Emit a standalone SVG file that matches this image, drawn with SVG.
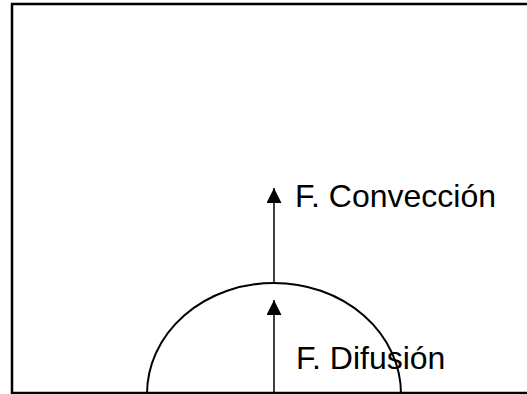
<svg xmlns="http://www.w3.org/2000/svg" width="527" height="394" viewBox="0 0 527 394">
<defs>
<style>
.lbl{font-family:"Liberation Sans",Arial,sans-serif;font-size:32px;fill:#000}
.conn{stroke:#000;stroke-width:1.5;fill:none;marker-end:url(#ah)}
</style>
<marker id="ah" viewBox="0 0 15 15" refX="15" refY="7.5" markerUnits="userSpaceOnUse" markerWidth="15" markerHeight="15" orient="auto">
<path d="M0,0 L15,7.5 L0,15 Z" fill="#000"/>
</marker>
</defs>
<rect width="527" height="394" fill="#fff"/>
<g id="frame"><rect x="12" y="4" width="530" height="389" fill="none" stroke="#000" stroke-width="2.5"/></g>
<g id="label-conveccion"><text class="lbl" x="295" y="207">F. Convección</text></g>
<g id="label-difusion"><text class="lbl" x="296" y="369">F. Difusión</text></g>
<g id="particle"><ellipse cx="274" cy="394" rx="127" ry="111" fill="none" stroke="#000" stroke-width="2"/></g>
<g id="connectors">
<line class="conn" x1="274" y1="394" x2="274" y2="300"/>
<line class="conn" x1="274" y1="283" x2="274" y2="188"/>
</g>
</svg>
